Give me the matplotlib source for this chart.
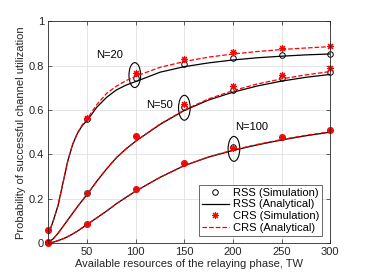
import numpy as np
import matplotlib
matplotlib.use("Agg")
import matplotlib.pyplot as plt
from matplotlib.patches import Ellipse

plt.rcParams['font.family'] = ['Liberation Sans', 'DejaVu Sans']

# simulation points
x_sim = [10, 50, 100, 150, 200, 250, 300]
rss20_sim = [0.06, 0.56, 0.743, 0.805, 0.833, 0.847, 0.853]
crs20_sim = [0.06, 0.565, 0.767, 0.83, 0.86, 0.88, 0.887]
rss50_sim = [0.005, 0.225, 0.485, 0.615, 0.692, 0.745, 0.77]
crs50_sim = [0.005, 0.225, 0.485, 0.628, 0.707, 0.759, 0.788]
rss100_sim = [0.0, 0.085, 0.245, 0.36, 0.432, 0.478, 0.512]
crs100_sim = [0.0, 0.085, 0.245, 0.36, 0.428, 0.478, 0.512]

# analytical curves
x_ana = [10, 15, 20, 25, 30, 35, 40, 45, 50, 60, 70, 80, 90, 100,
         125, 150, 175, 200, 225, 250, 275, 300]
rss20_ana = [0.04, 0.10, 0.17, 0.27, 0.37, 0.445, 0.495, 0.53, 0.553, 0.613, 0.657, 0.69,
             0.712, 0.728, 0.77, 0.795, 0.812, 0.825, 0.835, 0.842, 0.848, 0.852]
crs20_ana = [0.04, 0.10, 0.17, 0.27, 0.37, 0.445, 0.497, 0.534, 0.56, 0.625, 0.675, 0.707,
             0.732, 0.752, 0.792, 0.818, 0.838, 0.852, 0.863, 0.872, 0.879, 0.885]
rss50_ana = [0.005, 0.02, 0.045, 0.075, 0.105, 0.135, 0.165, 0.193, 0.22, 0.28, 0.335, 0.385,
             0.425, 0.46, 0.535, 0.598, 0.645, 0.68, 0.708, 0.73, 0.747, 0.76]
crs50_ana = [0.005, 0.02, 0.045, 0.075, 0.105, 0.135, 0.165, 0.193, 0.22, 0.28, 0.335, 0.385,
             0.425, 0.46, 0.537, 0.60, 0.65, 0.687, 0.717, 0.74, 0.758, 0.773]
rss100_ana = [0.0, 0.005, 0.012, 0.02, 0.03, 0.042, 0.055, 0.07, 0.085, 0.115, 0.145, 0.178,
              0.207, 0.235, 0.297, 0.35, 0.388, 0.418, 0.443, 0.465, 0.484, 0.50]
crs100_ana = [0.0, 0.005, 0.012, 0.02, 0.03, 0.042, 0.055, 0.07, 0.085, 0.115, 0.145, 0.178,
              0.207, 0.235, 0.297, 0.35, 0.389, 0.42, 0.445, 0.467, 0.486, 0.502]

# annotations
labels = ['N=20', 'N=50', 'N=100']
label_xy = [(73, 0.847), (124, 0.622), (219, 0.525)]
ellipse_xy = [(99, 0.757), (150, 0.61), (201, 0.425)]

fig = plt.figure(figsize=(3.66, 2.74), dpi=100)
ax = fig.add_axes([0.132, 0.112, 0.770, 0.811])

fs = 8
ast = (8, 2, 0)

ax.plot(x_sim, rss20_sim, 'o', color='black', mfc='none', ms=4, mew=0.7,
        label='RSS (Simulation)', clip_on=False)
ax.plot(x_ana, rss20_ana, '-', color='black', lw=0.9, label='RSS (Analytical)')
ax.plot(x_sim, crs20_sim, ls='none', marker=ast, color='red', ms=5, mew=0.8,
        label='CRS (Simulation)', clip_on=False)
ax.plot(x_ana, crs20_ana, '--', color='red', lw=0.9, label='CRS (Analytical)')

for rs, ra, cs, ca in [(rss50_sim, rss50_ana, crs50_sim, crs50_ana),
                       (rss100_sim, rss100_ana, crs100_sim, crs100_ana)]:
    ax.plot(x_sim, rs, 'o', color='black', mfc='none', ms=4, mew=0.7, clip_on=False)
    ax.plot(x_ana, ra, '-', color='black', lw=0.9)
    ax.plot(x_sim, cs, ls='none', marker=ast, color='red', ms=5, mew=0.8, clip_on=False)
    ax.plot(x_ana, ca, '--', color='red', lw=0.9)

for txt, (tx, ty), (ex, ey) in zip(labels, label_xy, ellipse_xy):
    ax.text(tx, ty, txt, fontsize=fs, ha='center', va='center')
    ax.add_patch(Ellipse((ex, ey), 12, 0.112, fill=False, edgecolor='black', lw=0.8))

ax.set_xlim(10, 300)
ax.set_ylim(0, 1)
ax.set_xticks([50, 100, 150, 200, 250, 300])
ax.set_yticks([0, 0.2, 0.4, 0.6, 0.8, 1])
ax.set_yticklabels(['0', '0.2', '0.4', '0.6', '0.8', '1'])
ax.grid(True, color='#e0e0e0', lw=0.6)
ax.set_axisbelow(True)
ax.tick_params(direction='in', labelsize=fs, length=3, width=0.5, colors='#262626',
               top=True, right=True, pad=3)
for s in ax.spines.values():
    s.set_color('#262626')
    s.set_linewidth(0.6)

ax.set_xlabel('Available resources of the relaying phase, TW', fontsize=fs, labelpad=1,
              color='#262626')
ax.set_ylabel('Probability of successful channel utilization', fontsize=fs, labelpad=2,
              color='#262626')

leg = ax.legend(loc='lower right', fontsize=fs, frameon=True, fancybox=False,
                edgecolor='#262626', handlelength=2.4, borderaxespad=0.7,
                labelspacing=0.15, borderpad=0.25, handletextpad=0.4)
leg.get_frame().set_linewidth(0.6)

fig.savefig('out.png', dpi=100)
